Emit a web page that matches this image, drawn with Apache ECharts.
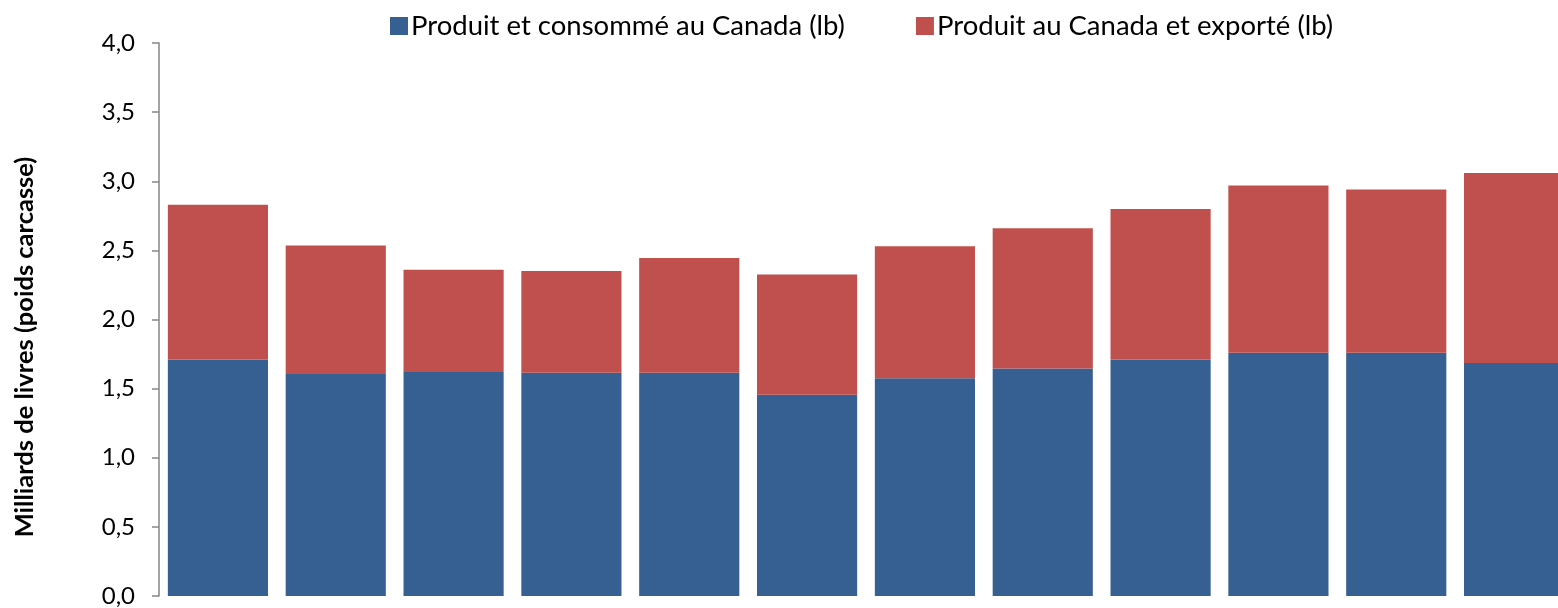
<!DOCTYPE html>
<html>
<head>
<meta charset="utf-8">
<script src="https://cdn.jsdelivr.net/npm/echarts@6/dist/echarts.min.js"></script>
<style>
  html, body { margin: 0; padding: 0; background: #ffffff; overflow: hidden; }
  /* the plot runs slightly past the right edge of the window */
  #chart { width: 1576px; height: 608px; }
</style>
</head>
<body>
<div id="chart"></div>
<script>
// Twelve annual periods (no labels are shown on the category axis)
const categories = ['1', '2', '3', '4', '5', '6', '7', '8', '9', '10', '11', '12'];

// Billions of pounds, carcass weight
const consumedInCanada = [1.71, 1.605, 1.62, 1.615, 1.615, 1.455, 1.575, 1.645, 1.71, 1.76, 1.76, 1.685];
const exported = [1.12, 0.93, 0.74, 0.735, 0.83, 0.87, 0.955, 1.015, 1.09, 1.21, 1.18, 1.375];

const seriesNames = ['Produit et consommé au Canada (lb)', 'Produit au Canada et exporté (lb)'];
const yAxisTitle = 'Milliards de livres (poids carcasse)';

const FONT = 'Lato, "Open Sans", sans-serif';

const chart = echarts.init(document.getElementById('chart'), null, { renderer: 'canvas' });

chart.setOption({
  animation: false,
  backgroundColor: '#ffffff',
  textStyle: { fontFamily: FONT },
  legend: {
    top: 12,
    left: 390,
    padding: 0,
    itemWidth: 18,
    itemHeight: 18,
    itemGap: 71,
    icon: 'rect',
    textStyle: { fontFamily: FONT, fontSize: 27.5, color: '#000000', padding: [0, 0, 0, -2] },
    data: seriesNames
  },
  grid: {
    left: 159,
    top: 43,
    bottom: 11,
    width: 1414,
    containLabel: false
  },
  xAxis: {
    type: 'category',
    data: categories,
    axisLine: { show: false },
    axisTick: { show: false },
    axisLabel: { show: false }
  },
  yAxis: {
    type: 'value',
    min: 0,
    max: 4,
    interval: 0.5,
    splitLine: { show: false },
    axisLine: { show: true, lineStyle: { color: '#868686', width: 1.5 } },
    axisTick: { show: true, inside: false, length: 7, lineStyle: { color: '#868686', width: 1.5 } },
    axisLabel: {
      margin: 24,
      fontFamily: FONT,
      fontSize: 24,
      color: '#000000',
      formatter: v => v.toFixed(1).replace('.', ',')
    }
  },
  graphic: [{
    type: 'text',
    x: 25,
    y: 347,
    rotation: Math.PI / 2,
    style: {
      text: yAxisTitle,
      font: 'bold 25.5px Lato, "Open Sans", sans-serif',
      fill: '#000000',
      align: 'center',
      verticalAlign: 'middle'
    }
  }],
  series: [
    {
      name: seriesNames[0],
      type: 'bar',
      stack: 'total',
      barCategoryGap: '15%',
      itemStyle: { color: '#376092' },
      data: consumedInCanada
    },
    {
      name: seriesNames[1],
      type: 'bar',
      stack: 'total',
      barCategoryGap: '15%',
      itemStyle: { color: '#C0504D' },
      data: exported
    }
  ]
});
</script>
</body>
</html>
